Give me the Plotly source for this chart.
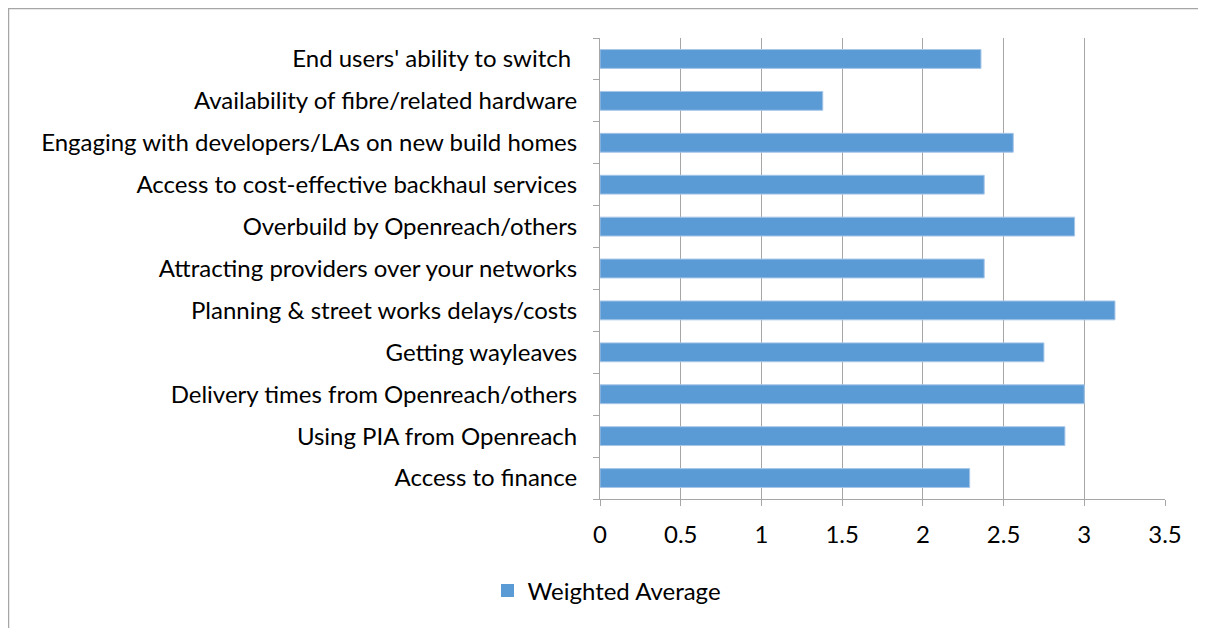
import plotly.graph_objects as go

categories = [
    "Access to finance",
    "Using PIA from Openreach",
    "Delivery times from Openreach/others",
    "Getting wayleaves",
    "Planning & street works delays/costs",
    "Attracting providers over your networks",
    "Overbuild by Openreach/others",
    "Access to cost-effective backhaul services",
    "Engaging with developers/LAs on new build homes",
    "Availability of fibre/related hardware",
    "End users' ability to switch\u00a0",
]
values = [2.29, 2.88, 3.00, 2.75, 3.19, 2.38, 2.94, 2.38, 2.56, 1.38, 2.36]
series_name = "Weighted Average"
x_ticks = [0, 0.5, 1, 1.5, 2, 2.5, 3, 3.5]
x_tick_labels = ["0", "0.5", "1", "1.5", "2", "2.5", "3", "3.5"]

# page is offset by the 8px body margin
OFF = 8
W, H = 1206 - OFF, 628 - OFF
L, R, T, B = 600 - OFF, 1165 - OFF, 38 - OFF, 499 - OFF
BAR_COLOR = "#5B9BD5"

fig = go.Figure()
fig.add_trace(go.Bar(
    y=categories, x=values, orientation="h", name=series_name,
    marker=dict(color=BAR_COLOR, line=dict(color="#A7C6E8", width=1)),
    showlegend=False, legendgroup="wa",
))
# legend entry with a larger square swatch
fig.add_trace(go.Scatter(
    x=[None], y=[None], mode="markers", name=series_name,
    marker=dict(symbol="square", size=13, color=BAR_COLOR),
    showlegend=True, legendgroup="wa",
))

FONT = "Lato, 'Open Sans', sans-serif"
fig.update_layout(
    width=W, height=H,
    margin=dict(l=L, r=W - R, t=T, b=H - B, pad=0),
    paper_bgcolor="white", plot_bgcolor="white",
    font=dict(family=FONT, size=24, color="#000000"),
    bargap=0.55,
    showlegend=True,
    legend=dict(orientation="h", xref="container", yref="container",
                x=0.5, xanchor="center", y=0.06, yanchor="middle",
                font=dict(size=24), itemwidth=30),
    xaxis=dict(range=[0, 3.5], tickvals=x_ticks, ticktext=x_tick_labels,
               showgrid=True, gridcolor="#A6A6A6", gridwidth=1,
               showline=True, linecolor="#A6A6A6", linewidth=1,
               ticks="outside", ticklen=6, tickcolor="#A6A6A6",
               zeroline=False, fixedrange=True, ticklabelstandoff=8),
    yaxis=dict(categoryorder="array", categoryarray=categories,
               showline=True, linecolor="#A6A6A6", linewidth=1,
               ticks="outside", ticklen=6, tickcolor="#A6A6A6",
               tickson="boundaries", showgrid=False,
               ticklabelstandoff=17, fixedrange=True),
)

# chart border (left and top edges of the chart frame)
pw, ph = R - L, B - T
def px_x(p):
    return (p - L) / pw
def px_y(p):
    return (B - p) / ph
fig.add_shape(type="line", xref="paper", yref="paper",
              x0=px_x(0.5), x1=px_x(0.5), y0=px_y(0), y1=px_y(H + 10),
              line=dict(color="#A6A6A6", width=1.5))
fig.add_shape(type="line", xref="paper", yref="paper",
              x0=px_x(0), x1=px_x(W + 10), y0=px_y(0.5), y1=px_y(0.5),
              line=dict(color="#A6A6A6", width=1.5))

fig.write_html("out.html")
